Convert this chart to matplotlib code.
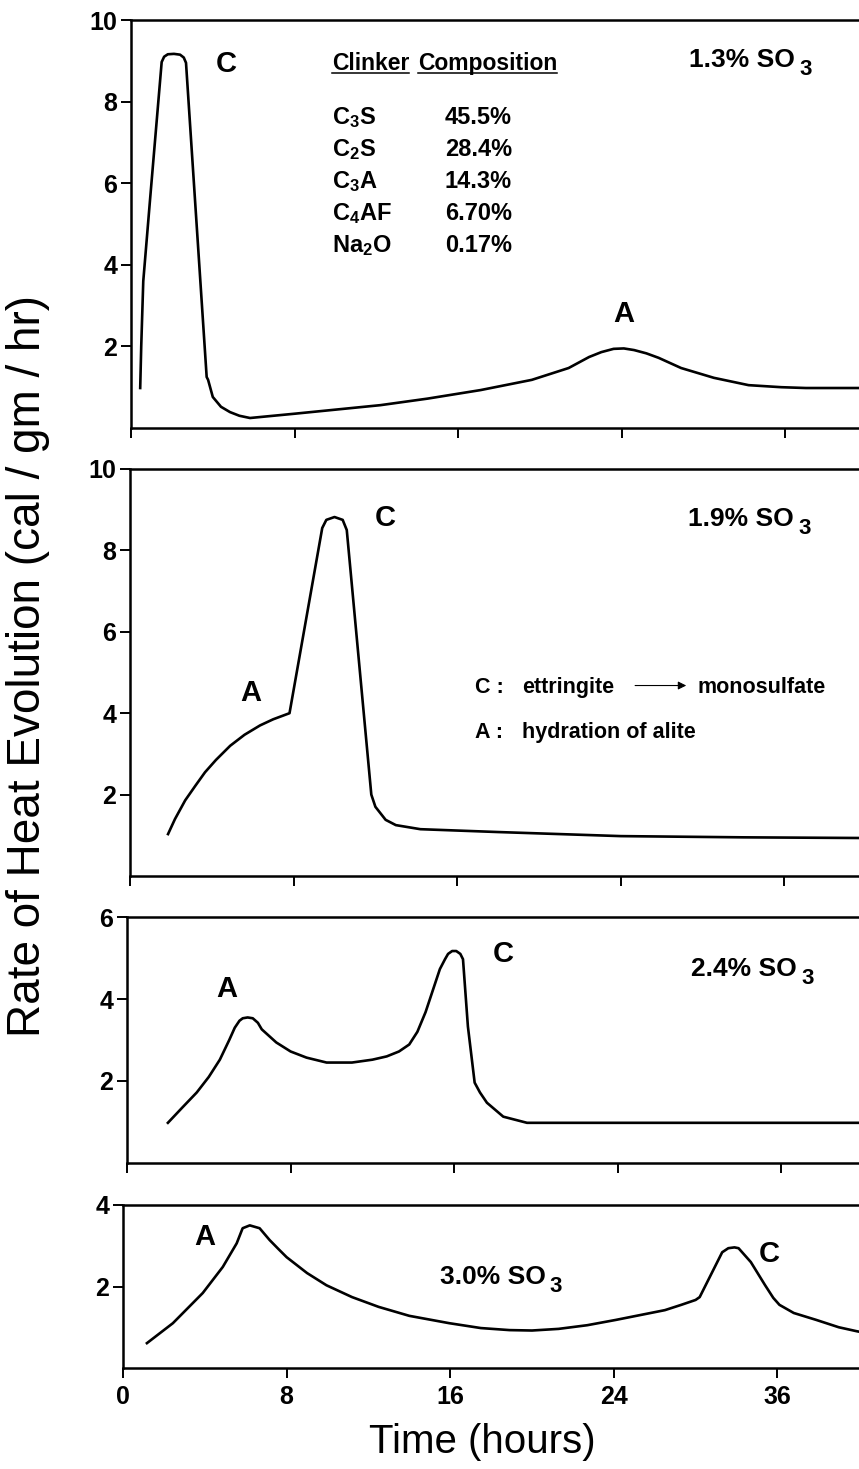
import matplotlib
matplotlib.use('Agg')
import matplotlib.pyplot as plt
from matplotlib.lines import Line2D

plt.rcParams['font.family'] = ['Liberation Sans', 'DejaVu Sans']
plt.rcParams['font.weight'] = 'bold'
plt.rcParams['mathtext.fontset'] = 'custom'
plt.rcParams['mathtext.rm'] = 'Liberation Sans:bold'
plt.rcParams['mathtext.it'] = 'Liberation Sans:bold'
plt.rcParams['mathtext.bf'] = 'Liberation Sans:bold'

# --- data (time in h, rate in cal/gm/hr)
t_13 = [0.45, 0.5, 0.6, 0.93, 1.5, 1.62, 1.8, 2.1, 2.4, 2.58, 2.69, 3.13, 3.7,
        3.77, 4.0, 4.4, 4.84, 5.3, 5.82, 8.0, 10.0, 12.2, 14.5, 17.1, 19.6,
        21.4, 22.4, 23.0, 23.6, 24.1, 24.6, 25.2, 25.8, 26.9, 28.5, 30.2,
        31.8, 33.0, 37.0]
r_13 = [0.98, 2.0, 3.6, 5.59, 8.97, 9.1, 9.16, 9.17, 9.15, 9.08, 8.95, 5.59,
        1.25, 1.18, 0.76, 0.52, 0.39, 0.3, 0.245, 0.35, 0.45, 0.56, 0.72,
        0.93, 1.18, 1.47, 1.74, 1.86, 1.94, 1.95, 1.91, 1.83, 1.72, 1.47,
        1.23, 1.05, 1.0, 0.98, 0.98]

t_19 = [1.86, 2.2, 2.7, 3.2, 3.67, 4.2, 4.9, 5.6, 6.36, 7.0, 7.8, 9.4, 9.6,
        10.0, 10.4, 10.6, 11.8, 12.0, 12.5, 13.0, 14.2, 18.0, 24.0, 30.0, 37.0]
r_19 = [1.03, 1.4, 1.86, 2.22, 2.55, 2.85, 3.2, 3.47, 3.7, 3.85, 4.0, 8.55,
        8.75, 8.82, 8.75, 8.5, 2.0, 1.7, 1.38, 1.25, 1.15, 1.08, 0.98, 0.95,
        0.93]

t_24 = [2.0, 2.7, 3.41, 4.0, 4.54, 5.0, 5.27, 5.5, 5.66, 5.9, 6.15, 6.4, 6.59,
        7.3, 8.0, 8.78, 9.76, 11.0, 12.0, 12.7, 13.3, 13.8, 14.2, 14.6, 15.3,
        15.55, 15.7, 15.9, 16.1, 16.3, 16.43, 16.67, 17.0, 17.26, 17.6, 18.4,
        19.56, 25.0, 37.0]
r_24 = [0.98, 1.35, 1.72, 2.1, 2.52, 3.0, 3.3, 3.47, 3.53, 3.55, 3.53, 3.42,
        3.26, 2.94, 2.72, 2.57, 2.45, 2.45, 2.52, 2.6, 2.72, 2.89, 3.2, 3.68,
        4.73, 4.97, 5.1, 5.17, 5.17, 5.1, 4.97, 3.33, 1.96, 1.72, 1.47, 1.13,
        0.98, 0.98, 0.98]

t_30 = [1.17, 2.44, 3.9, 4.88, 5.56, 5.85, 6.2, 6.68, 7.17, 7.6, 8.0, 9.0,
        9.95, 11.2, 12.5, 14.0, 15.95, 17.5, 18.9, 20.0, 21.3, 22.7, 24.1,
        25.3, 26.5, 27.3, 28.0, 28.2, 29.3, 29.6, 29.9, 30.1, 30.7, 31.4,
        31.8, 32.1, 32.8, 33.9, 35.0, 35.9, 37.0]
r_30 = [0.61, 1.1, 1.84, 2.48, 3.06, 3.43, 3.5, 3.43, 3.14, 2.92, 2.72, 2.33,
        2.03, 1.74, 1.5, 1.28, 1.10, 0.98, 0.93, 0.92, 0.96, 1.05, 1.18, 1.3,
        1.42, 1.55, 1.67, 1.74, 2.84, 2.94, 2.96, 2.94, 2.6, 2.03, 1.72, 1.55,
        1.35, 1.18, 1.0, 0.9, 0.8]

times = [t_13, t_19, t_24, t_30]
rates = [r_13, r_19, r_24, r_30]
so3_pct = ['1.3%', '1.9%', '2.4%', '3.0%']
y_maxes = [10, 10, 6, 4]
x_ticks = [0, 8, 16, 24, 32]
x_ticklabels = ['0', '8', '16', '24', '36']

oxides = ['C$_3$S', 'C$_2$S', 'C$_3$A', 'C$_4$AF', 'Na$_2$O']
oxide_pct = ['45.5%', '28.4%', '14.3%', '6.70%', '0.17%']

W, H = 859, 1469
PX_PER_H = 20.45
fig = plt.figure(figsize=(W / 100, H / 100), dpi=100)

# panel frames in pixels: left, top, bottom
frames = [(131, 20, 428), (130, 469, 876), (127, 917, 1163), (123, 1205, 1368)]
axes = []
for i, (left, top, bottom) in enumerate(frames):
    width = 40 * PX_PER_H
    ax = fig.add_axes([left / W, 1 - bottom / H, width / W, (bottom - top) / H])
    ax.plot(times[i], rates[i], color='black', lw=1.9, solid_joinstyle='round')
    ax.set_xlim(0, 40)
    ax.set_ylim(0, y_maxes[i])
    ax.set_yticks(range(2, y_maxes[i] + 1, 2))
    ax.set_xticks(x_ticks)
    if i == 3:
        ax.set_xticklabels(x_ticklabels, fontsize=18)
    else:
        ax.set_xticklabels([])
    ax.tick_params(direction='out', length=7, width=1.4, labelsize=18, pad=3)
    ax.tick_params(axis='x', pad=5)
    for s in ['left', 'bottom', 'top']:
        ax.spines[s].set_linewidth(1.8)
    ax.spines['right'].set_visible(False)
    axes.append(ax)

ax1, ax2, ax3, ax4 = axes

# "x.x% SO" + a big, lowered "3" (drawn after layout is known)
so3_pos = [(ax1, 27.3, 8.85), (ax2, 27.3, 8.6), (ax3, 27.6, 4.55), (ax4, 15.5, 2.05)]
so3_texts = []
for (ax, xh, yv), pct in zip(so3_pos, so3_pct):
    so3_texts.append(ax.text(xh, yv, pct + ' SO', fontsize=19, ha='left',
                             va='baseline'))

# panel 1
ax1.text(4.65, 8.73, 'C', fontsize=21, ha='center', va='baseline')
ax1.text(24.1, 2.6, 'A', fontsize=21, ha='center', va='baseline')
t_a = ax1.text(9.83, 8.77, 'Clinker', fontsize=16.5, ha='left', va='baseline')
t_b = ax1.text(14.03, 8.77, 'Composition', fontsize=16.5, ha='left', va='baseline')
for j, (ox, pc) in enumerate(zip(oxides, oxide_pct)):
    yb = 7.45 - j * 0.785
    ax1.text(9.83, yb, ox, fontsize=17, ha='left', va='baseline')
    ax1.text(15.35, yb, pc, fontsize=17, ha='left', va='baseline')

# panel 2
ax2.text(12.5, 8.6, 'C', fontsize=21, ha='center', va='baseline')
ax2.text(5.9, 4.3, 'A', fontsize=21, ha='center', va='baseline')
ax2.text(16.87, 4.5, 'C :', fontsize=15.5, ha='left', va='baseline')
ax2.text(19.17, 4.5, 'ettringite', fontsize=15.5, ha='left', va='baseline')
ax2.text(27.73, 4.5, 'monosulfate', fontsize=15.5, ha='left', va='baseline')
ax2.annotate('', xy=(27.2, 4.68), xytext=(24.7, 4.68),
             arrowprops=dict(arrowstyle='-|>', color='black', lw=0.8,
                             mutation_scale=12, shrinkA=0, shrinkB=0))
ax2.text(16.87, 3.38, 'A :', fontsize=15.5, ha='left', va='baseline')
ax2.text(19.17, 3.38, 'hydration of alite', fontsize=15.5, ha='left', va='baseline')

# panel 3
ax3.text(4.9, 4.04, 'A', fontsize=21, ha='center', va='baseline')
ax3.text(18.4, 4.9, 'C', fontsize=21, ha='center', va='baseline')

# panel 4
ax4.text(4.0, 3.01, 'A', fontsize=21, ha='center', va='baseline')
ax4.text(31.6, 2.6, 'C', fontsize=21, ha='center', va='baseline')

fig.text(28 / W, 1 - 666 / H, 'Rate of Heat Evolution (cal / gm / hr)',
         rotation=90, fontsize=33, fontweight='normal', ha='center', va='center')
fig.text(482 / W, 1 - 1442 / H, 'Time (hours)', fontsize=29,
         fontweight='normal', ha='center', va='center')

fig.canvas.draw()
r = fig.canvas.get_renderer()

# underline the "Clinker Composition" heading word by word
for t in [t_a, t_b]:
    bb = t.get_window_extent(r)
    y_line = bb.y0 + 2
    fig.add_artist(Line2D([bb.x0 / W, bb.x1 / W], [y_line / H, y_line / H],
                          color='black', lw=1.1, transform=fig.transFigure))

# subscript 3 of SO3
for t in so3_texts:
    bb = t.get_window_extent(r)
    base = t.get_transform().transform(t.get_position())[1]
    fig.text((bb.x1 + 4) / W, (base - 8) / H, '3', fontsize=16,
             ha='left', va='baseline')

fig.savefig('out.png', dpi=100)
